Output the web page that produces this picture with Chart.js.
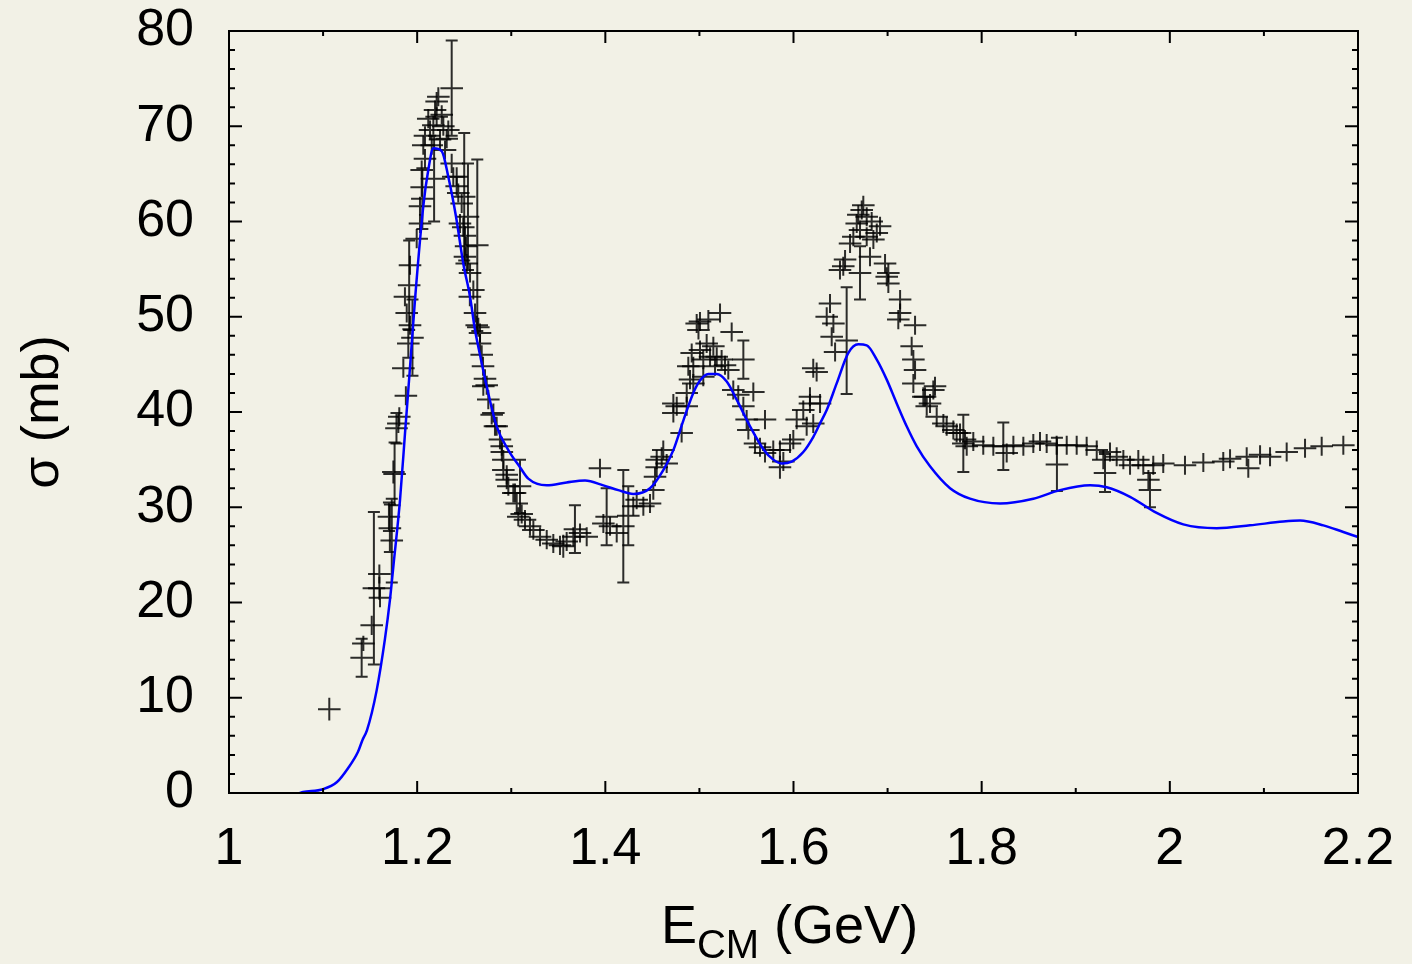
<!DOCTYPE html>
<html>
<head>
<meta charset="utf-8">
<script src="https://cdn.jsdelivr.net/npm/chart.js@4.4.1/dist/chart.umd.min.js"></script>
<style>
  html, body { margin: 0; padding: 0; background: #f2f1e6; }
</style>
</head>
<body>
<script>
// measured cross sections (E in GeV, sigma and its error in mb)
const energy = [
  1.1066, 1.1410, 1.1428, 1.1517, 1.1540, 1.1598, 1.1598, 1.1605, 1.1700, 1.1710,
  1.1730, 1.1747, 1.1760, 1.1780, 1.1800, 1.1810, 1.1853, 1.1880, 1.1870, 1.1889,
  1.1906, 1.1924, 1.1950, 1.1915, 1.1924, 1.1995, 1.2030, 1.2030, 1.2048, 1.2048,
  1.2055, 1.2083, 1.2065, 1.2083, 1.2118, 1.2155, 1.2172, 1.2180, 1.2190, 1.2207,
  1.2225, 1.2243, 1.2261, 1.2296, 1.2314, 1.2331, 1.2367, 1.2367, 1.2384, 1.2420,
  1.2437, 1.2455, 1.2490, 1.2500, 1.2508, 1.2520, 1.2508, 1.2527, 1.2540, 1.2562,
  1.2597, 1.2560, 1.2639, 1.2615, 1.2633, 1.2650, 1.2668, 1.2668, 1.2686, 1.2700,
  1.2721, 1.2739, 1.2703, 1.2756, 1.2792, 1.2810, 1.2827, 1.2845, 1.2880, 1.2899,
  1.2900, 1.2916, 1.2916, 1.2952, 1.2952, 1.2969, 1.3022, 1.3040, 1.3058, 1.3075,
  1.3093, 1.3111, 1.3146, 1.3199, 1.3235, 1.3306, 1.3377, 1.3447, 1.3518, 1.3553,
  1.3589, 1.3660, 1.3677, 1.3731, 1.3802, 1.3943, 1.3979, 1.4014, 1.4050, 1.4121,
  1.4191, 1.4244, 1.4297, 1.4333, 1.4404, 1.4475, 1.4510, 1.4528, 1.4546, 1.4546,
  1.4599, 1.4616, 1.4652, 1.4723, 1.4723, 1.4759, 1.4811, 1.4865, 1.4865, 1.4882,
  1.4900, 1.4918, 1.4935, 1.4971, 1.4990, 1.5006, 1.5041, 1.5077, 1.5095, 1.5113,
  1.5148, 1.5166, 1.5219, 1.5236, 1.5307, 1.5343, 1.5360, 1.5413, 1.5467, 1.5467,
  1.5502, 1.5520, 1.5573, 1.5591, 1.5644, 1.5697, 1.5697, 1.5785, 1.5856, 1.5856,
  1.5892, 1.5963, 1.5998, 1.6034, 1.6104, 1.6140, 1.6175, 1.6175, 1.6210, 1.6210,
  1.6246, 1.6282, 1.6353, 1.6388, 1.6406, 1.6424, 1.6442, 1.6529, 1.6548, 1.6565,
  1.6601, 1.6672, 1.6689, 1.6707, 1.6707, 1.6725, 1.6742, 1.6778, 1.6813, 1.6831,
  1.6849, 1.6920, 1.6973, 1.7008, 1.7008, 1.7114, 1.7133, 1.7133, 1.7256, 1.7274,
  1.7292, 1.7292, 1.7274, 1.7380, 1.7398, 1.7416, 1.7451, 1.7486, 1.7504, 1.7522,
  1.7593, 1.7628, 1.7699, 1.7734, 1.7770, 1.7805, 1.7823, 1.7841, 1.7911, 1.8017,
  1.8124, 1.8230, 1.8266, 1.8337, 1.8443, 1.8549, 1.8620, 1.8691, 1.8797, 1.8800,
  1.8904, 1.9010, 1.9116, 1.9223, 1.9293, 1.9311, 1.9364, 1.9435, 1.9506, 1.9577,
  1.9665, 1.9718, 1.9772, 1.9789, 1.9824, 1.9930, 2.0161, 2.0356, 2.0568, 2.0640,
  2.0817, 2.0834, 2.0959, 2.1065, 2.1242, 2.1437, 2.1614, 2.1844,
  1.4935, 1.5006, 1.5184, 1.5272, 1.5041, 1.6636, 1.6778, 1.6885, 1.6494, 1.6991,
  1.2207, 1.2137, 1.2278, 1.2420, 1.2473
];
const sigma = [
  8.8, 14.2, 15.7, 17.6, 21.5, 23.0, 21.5, 20.5, 29.0, 27.8,
  26.5, 33.7, 33.5, 38.3, 38.8, 39.5, 44.6, 41.7, 52.1, 50.4,
  47.2, 49.1, 47.8, 53.3, 55.4, 58.2, 59.8, 61.6, 63.6, 65.4,
  62.4, 66.6, 68.0, 69.0, 70.8, 68.0, 70.1, 64.5, 71.7, 72.6,
  73.1, 68.6, 71.2, 67.5, 68.7, 69.6, 74.0, 66.1, 64.7, 63.7,
  63.0, 59.8, 59.4, 62.6, 58.5, 57.4, 56.3, 55.6, 60.5, 54.6,
  52.8, 52.1, 57.5, 50.4, 49.1, 48.9, 48.3, 47.2, 46.0, 44.8,
  43.5, 42.8, 42.7, 41.3, 39.7, 39.9, 38.5, 38.5, 37.1, 36.4,
  35.8, 35.0, 33.9, 33.4, 32.9, 32.2, 31.5, 31.5, 30.4, 29.0,
  32.2, 29.3, 28.7, 28.0, 27.6, 26.9, 26.6, 26.2, 26.0, 25.9,
  26.4, 26.9, 27.7, 27.3, 26.9, 34.1, 28.3, 29.0, 28.0, 27.3,
  28.0, 29.1, 30.1, 30.8, 30.1, 30.4, 31.8, 33.2, 34.2, 35.0,
  35.3, 36.0, 34.6, 39.9, 40.9, 40.6, 37.8, 42.0, 40.6, 44.8,
  43.4, 46.2, 43.0, 49.3, 48.6, 49.5, 45.5, 47.2, 49.7, 45.8,
  46.9, 44.8, 50.4, 45.5, 44.4, 48.4, 42.3, 41.8, 45.5, 40.6,
  39.2, 38.1, 42.1, 36.7, 36.3, 39.2, 35.7, 36.0, 36.0, 34.2,
  34.8, 36.7, 37.1, 39.2, 40.2, 38.5, 41.6, 40.9, 38.8, 44.6,
  44.2, 40.9, 50.0, 51.4, 47.9, 49.3, 46.3, 55.3, 56.0, 47.5,
  57.7, 59.8, 60.7, 59.1, 54.6, 61.2, 61.7, 60.5, 56.3, 60.0,
  58.1, 59.5, 55.6, 54.6, 53.5, 49.7, 51.8, 50.4, 46.9, 45.5,
  49.1, 44.4, 43.0, 41.6, 41.6, 40.6, 40.9, 42.3, 42.7, 39.5,
  38.8, 38.5, 38.1, 37.8, 37.8, 36.7, 37.1, 36.4, 36.9, 36.5,
  36.4, 36.4, 35.7, 36.5, 36.4, 36.7, 36.9, 36.7, 36.5, 34.5,
  36.5, 36.5, 36.4, 36.0, 35.0, 33.6, 35.8, 35.3, 35.0, 34.4,
  35.0, 34.4, 32.9, 31.8, 34.4, 34.6, 34.4, 34.7, 34.8, 35.1,
  35.3, 34.1, 35.5, 35.3, 35.8, 36.2, 36.4, 36.5,
  44.8, 46.5, 45.8, 44.9, 43.7, 58.4, 58.4, 58.8, 54.9, 54.2,
  71.0, 69.6, 70.0, 64.7, 61.9
];
const sigmaErr = [
  1.2, 2.0, 0.8, 1.0, 8.0, 1.0, 1.2, 1.0, 1.5, 2.5,
  4.4, 1.2, 3.3, 1.6, 1.0, 1.0, 1.0, 1.0, 1.0, 1.0,
  1.5, 1.0, 4.0, 4.7, 1.0, 1.0, 1.0, 1.0, 1.0, 1.0,
  3.2, 1.0, 1.0, 1.0, 1.0, 1.0, 1.0, 4.5, 1.0, 1.0,
  1.0, 1.0, 1.0, 1.0, 1.0, 1.0, 5.0, 1.0, 1.0, 1.0,
  1.0, 1.0, 1.0, 6.7, 1.0, 1.0, 1.0, 1.0, 5.6, 1.0,
  1.0, 1.0, 9.0, 1.0, 1.0, 1.0, 1.0, 1.0, 1.0, 1.0,
  1.0, 1.0, 1.0, 1.0, 1.0, 1.0, 1.0, 1.0, 1.0, 1.0,
  1.0, 1.0, 1.0, 1.0, 1.0, 1.0, 1.0, 1.0, 1.0, 1.0,
  2.8, 1.0, 1.0, 1.0, 1.0, 1.0, 1.0, 1.0, 1.0, 1.2,
  1.0, 1.0, 2.5, 1.0, 1.0, 1.0, 1.0, 3.0, 1.0, 1.0,
  5.9, 3.1, 1.0, 1.0, 1.0, 1.0, 1.0, 1.0, 1.0, 1.0,
  1.0, 1.0, 1.0, 1.0, 1.0, 1.0, 1.0, 1.0, 1.0, 1.0,
  1.0, 1.0, 1.0, 1.0, 1.0, 1.0, 1.0, 1.0, 1.0, 1.0,
  1.0, 1.0, 1.0, 1.0, 1.0, 1.0, 1.0, 1.0, 2.0, 1.0,
  1.0, 1.0, 1.0, 1.0, 1.0, 1.0, 1.0, 1.0, 1.0, 1.2,
  1.0, 1.0, 1.0, 1.0, 1.0, 1.0, 1.0, 1.0, 1.0, 1.0,
  1.0, 1.0, 1.0, 1.0, 1.0, 1.0, 1.0, 1.0, 1.0, 5.6,
  1.0, 1.0, 1.0, 1.0, 2.8, 1.0, 1.0, 1.0, 1.0, 1.0,
  1.0, 1.0, 1.0, 1.0, 1.0, 1.0, 1.0, 1.0, 1.0, 1.0,
  1.0, 1.0, 1.0, 1.0, 1.0, 1.0, 1.0, 1.0, 1.0, 1.0,
  1.0, 1.0, 1.0, 1.0, 1.0, 3.0, 1.0, 1.0, 1.0, 1.0,
  1.0, 2.5, 1.0, 1.0, 1.0, 1.0, 1.0, 1.0, 1.0, 2.8,
  1.0, 1.0, 1.0, 1.0, 1.0, 2.0, 1.0, 1.0, 1.0, 1.0,
  1.0, 1.0, 1.0, 1.8, 1.0, 1.0, 1.0, 1.0, 1.0, 1.0,
  1.0, 1.0, 1.0, 1.0, 1.0, 1.0, 1.0, 1.0,
  1.0, 1.0, 1.0, 1.0, 1.0, 1.0, 1.0, 1.0, 1.0, 1.0,
  1.0, 1.0, 1.0, 1.0, 1.0
];
const energyErr = 0.012; // half bin width

// model curve
const modelEnergy = [
  1.075, 1.0787, 1.0999, 1.1148, 1.1265, 1.137, 1.142, 1.1467, 1.157, 1.1658,
  1.1711, 1.1746, 1.1818, 1.1871, 1.1924, 1.1977, 1.2065, 1.2118, 1.2172, 1.2261,
  1.2331, 1.2413, 1.249, 1.2562, 1.2615, 1.2668, 1.2739, 1.2845, 1.2969, 1.3093,
  1.3181, 1.3377, 1.3589, 1.3784, 1.3979, 1.4138, 1.4297, 1.4475, 1.4616, 1.4723,
  1.4829, 1.4935, 1.5006, 1.5095, 1.5184, 1.529, 1.5396, 1.5538, 1.5679, 1.5785,
  1.5875, 1.5981, 1.6104, 1.6211, 1.6282, 1.6353, 1.6459, 1.6583, 1.6689, 1.6778,
  1.6885, 1.6991, 1.7097, 1.7203, 1.731, 1.7451, 1.7664, 1.7876, 1.8195, 1.8549,
  1.8833, 1.9152, 1.9329, 1.9577, 1.986, 2.0143, 2.0498, 2.0852, 2.1206, 2.1384,
  2.1632, 2.1844, 2.1993
];
const modelSigma = [
  0, 0.1, 0.4, 1.15, 2.6, 4.3, 5.6, 6.6, 10.8, 16.2,
  20.3, 23.7, 30.8, 37.8, 44.7, 51.8, 61.6, 65.4, 67.7, 67.4,
  64.7, 60.5, 55.6, 52.1, 48.6, 46.0, 42.7, 38.5, 36.0, 34.2,
  33.0, 32.3, 32.6, 32.8, 32.3, 31.8, 31.4, 32.0, 33.9, 36.0,
  39.1, 42.0, 43.3, 44.0, 44.0, 43.2, 41.3, 38.5, 36.1, 35.0,
  34.6, 34.8, 35.8, 37.4, 38.8, 40.2, 43.0, 46.2, 47.1, 47.0,
  45.5, 43.4, 40.9, 38.5, 36.4, 34.3, 32.0, 30.9, 30.4, 30.9,
  31.8, 32.3, 32.1, 31.1, 29.4, 28.2, 27.8, 28.1, 28.5, 28.6,
  28.1, 27.4, 26.9
];

const xTicks = [1, 1.2, 1.4, 1.6, 1.8, 2, 2.2];
const yTicks = [0, 10, 20, 30, 40, 50, 60, 70, 80];

const fontFamily = "'Liberation Sans', Arial, Helvetica, sans-serif";
const bgColor = "#f2f1e6";

let container = document.createElement("div");
container.style.width = "1412px";
container.style.height = "964px";
container.style.position = "relative";
let canvas = document.createElement("canvas");
container.appendChild(canvas);
document.body.appendChild(container);

let points = energy.map((e, i) => ({ x: e, y: sigma[i], err: sigmaErr[i] }));
let model = modelEnergy.map((e, i) => ({ x: e, y: modelSigma[i] }));

// background, crosses with error bars, frame + inward ticks, axis titles
const framePlugin = {
  id: "frame",
  beforeDraw(chart) {
    let ctx = chart.ctx;
    ctx.save();
    ctx.fillStyle = bgColor;
    ctx.fillRect(0, 0, chart.width, chart.height);
    ctx.restore();
  },
  beforeDatasetsDraw(chart) {
    let ctx = chart.ctx;
    let xs = chart.scales.x;
    let ys = chart.scales.y;
    let area = chart.chartArea;
    ctx.save();
    ctx.beginPath();
    ctx.rect(area.left, area.top, area.right - area.left, area.bottom - area.top);
    ctx.clip();
    ctx.strokeStyle = "rgba(0,0,0,0.82)";
    ctx.lineWidth = 2;
    points.forEach((p) => {
      let cx = xs.getPixelForValue(p.x);
      let cy = ys.getPixelForValue(p.y);
      let x0 = xs.getPixelForValue(p.x - energyErr);
      let x1 = xs.getPixelForValue(p.x + energyErr);
      let y0 = ys.getPixelForValue(p.y - p.err);
      let y1 = ys.getPixelForValue(p.y + p.err);
      ctx.beginPath();
      ctx.moveTo(x0, cy);
      ctx.lineTo(x1, cy);
      ctx.moveTo(cx, y0);
      ctx.lineTo(cx, y1);
      if (p.err >= 1.5) {
        ctx.moveTo(cx - 6, y0);
        ctx.lineTo(cx + 6, y0);
        ctx.moveTo(cx - 6, y1);
        ctx.lineTo(cx + 6, y1);
      }
      ctx.stroke();
    });
    ctx.restore();
  },
  afterDraw(chart) {
    let ctx = chart.ctx;
    let xs = chart.scales.x;
    let ys = chart.scales.y;
    let a = chart.chartArea;
    ctx.save();
    ctx.strokeStyle = "#000";
    ctx.lineWidth = 2;
    ctx.strokeRect(a.left, a.top, a.right - a.left, a.bottom - a.top);

    ctx.beginPath();
    for (let i = 10; i <= 22; i++) {
      let px = xs.getPixelForValue(i / 10);
      let len = i % 2 === 0 ? 12 : 5;
      ctx.moveTo(px, a.bottom);
      ctx.lineTo(px, a.bottom - len);
      ctx.moveTo(px, a.top);
      ctx.lineTo(px, a.top + len);
    }
    for (let v = 0; v <= 80; v += 2) {
      let py = ys.getPixelForValue(v);
      let len = v % 10 === 0 ? 13 : 6;
      ctx.moveTo(a.left, py);
      ctx.lineTo(a.left + len, py);
      ctx.moveTo(a.right, py);
      ctx.lineTo(a.right - len, py);
    }
    ctx.stroke();

    // y title
    ctx.fillStyle = "#000";
    ctx.save();
    ctx.translate(58, (a.top + a.bottom) / 2);
    ctx.rotate(-Math.PI / 2);
    ctx.font = "52px " + fontFamily;
    ctx.textAlign = "center";
    ctx.textBaseline = "alphabetic";
    ctx.fillText("σ (mb)", 0, 0);
    ctx.restore();

    // x title with subscript
    let bigFont = "54px " + fontFamily;
    let subFont = "40px " + fontFamily;
    ctx.font = bigFont;
    let wE = ctx.measureText("E").width;
    let wRest = ctx.measureText(" (GeV)").width;
    ctx.font = subFont;
    let wSub = ctx.measureText("CM").width;
    let total = wE + wSub + wRest;
    let startX = (a.left + a.right) / 2 - total / 2 - 4;
    let baseY = 943;
    ctx.textAlign = "left";
    ctx.textBaseline = "alphabetic";
    ctx.font = bigFont;
    ctx.fillText("E", startX, baseY);
    ctx.font = subFont;
    ctx.fillText("CM", startX + wE, baseY + 15);
    ctx.font = bigFont;
    ctx.fillText(" (GeV)", startX + wE + wSub, baseY);
    ctx.restore();
  },
};

let chart = new Chart(canvas, {
  type: "scatter",
  data: {
    datasets: [
      {
        label: "model",
        data: model,
        showLine: true,
        borderColor: "#0000ff",
        borderWidth: 2.5,
        pointRadius: 0,
        cubicInterpolationMode: "monotone",
        fill: false,
      },
      {
        label: "data",
        data: points,
        pointRadius: 0,
        showLine: false,
      },
    ],
  },
  options: {
    responsive: true,
    maintainAspectRatio: false,
    animation: false,
    layout: { padding: { top: 31, right: 54, left: 0, bottom: 0 } },
    plugins: {
      legend: { display: false },
      tooltip: { enabled: false },
    },
    scales: {
      x: {
        type: "linear",
        min: 1,
        max: 2.2,
        grid: { display: false, drawTicks: false },
        border: { display: false },
        afterBuildTicks: (s) => {
          s.ticks = xTicks.map((v) => ({ value: v }));
        },
        afterFit: (s) => {
          s.height = 171;
          s.paddingLeft = 0;
          s.paddingRight = 0;
        },
        ticks: {
          padding: 25,
          color: "#000",
          autoSkip: false,
          maxRotation: 0,
          font: { family: fontFamily, size: 52 },
          callback: (v) => String(Math.round(v * 10) / 10),
        },
      },
      y: {
        type: "linear",
        min: 0,
        max: 80,
        grid: { display: false, drawTicks: false },
        border: { display: false },
        afterBuildTicks: (s) => {
          s.ticks = yTicks.map((v) => ({ value: v }));
        },
        afterFit: (s) => {
          s.width = 229;
          s.paddingTop = 0;
          s.paddingBottom = 0;
        },
        ticks: {
          padding: 35,
          color: "#000",
          font: { family: fontFamily, size: 52 },
        },
      },
    },
  },
  plugins: [framePlugin],
});
</script>
</body>
</html>
